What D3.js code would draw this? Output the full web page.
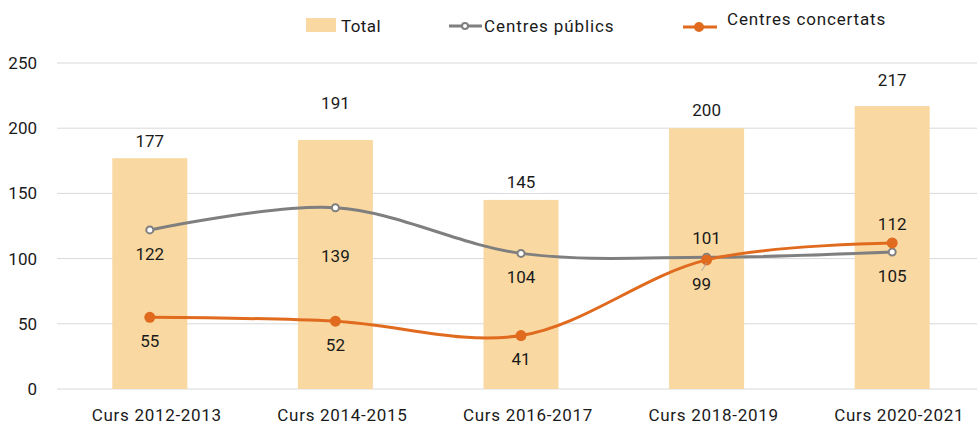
<!DOCTYPE html>
<html><head><meta charset="utf-8">
<script src="https://cdn.jsdelivr.net/npm/d3@7"></script>
<style>body{margin:0;background:#fff}svg{display:block}</style>
</head><body><svg id="c" width="977" height="430"></svg>
<script>
const categories = ["Curs 2012-2013","Curs 2014-2015","Curs 2016-2017","Curs 2018-2019","Curs 2020-2021"];
const total = [177,191,145,200,217];
const publics = [122,139,104,101,105];
const concertats = [55,52,41,99,112];
const yTicks = [0,50,100,150,200,250];
const totalLabelDy = [-17,-37,-18,-18,-26];
const publicsLabelDy = [24,48,24,-19,24];
const concertatsLabelDy = [24,24,24,24,-19];

const svg = d3.select("#c");
const W = 977, H = 430;
const x = d3.scaleBand().domain(categories).range([57, 985]).paddingInner(0.6).paddingOuter(0.3);
const y = d3.scaleLinear().domain([0,250]).range([389, 63]);
const font = "Roboto, 'DejaVu Sans', sans-serif";
const cx = d => x(d) + x.bandwidth()/2;
const BAR = "#F9D8A1", GRAY = "#7F7F7F", ORANGE = "#E06A1E", GRID = "#D9D9D9", TXT = "#1A1A1A";

// grid
svg.append("g").selectAll("line").data(yTicks).join("line")
  .attr("x1",57).attr("x2",W).attr("y1",d=>y(d)).attr("y2",d=>y(d))
  .attr("stroke",GRID).attr("stroke-width",1);
// y tick labels
svg.append("g").selectAll("text").data(yTicks).join("text")
  .attr("x",37).attr("y",d=>y(d)).attr("dy","0.35em").attr("text-anchor","end")
  .attr("font-family",font).attr("font-size",17).attr("fill",TXT).text(d=>d);

// bars
const bw = 75;
svg.append("g").selectAll("rect").data(categories).join("rect")
  .attr("x",d=>cx(d)-bw/2).attr("width",bw)
  .attr("y",(d,i)=>y(total[i])).attr("height",(d,i)=>y(0)-y(total[i]))
  .attr("fill",BAR);

// x labels
svg.append("g").selectAll("text").data(categories).join("text")
  .attr("x",d=>cx(d)+7).attr("y",421).attr("text-anchor","middle")
  .attr("font-family",font).attr("font-size",17).attr("letter-spacing","0.7px")
  .attr("fill",TXT).text(d=>d);

// total labels with white bg
const tl = svg.append("g").selectAll("g").data(categories).join("g")
  .attr("transform",(d,i)=>`translate(${cx(d)},${y(total[i])+totalLabelDy[i]})`);
tl.append("rect").attr("x",-19).attr("y",-11).attr("width",38).attr("height",22).attr("fill","#fff");
tl.append("text").attr("text-anchor","middle").attr("dy","0.35em")
  .attr("font-family",font).attr("font-size",17).attr("fill",TXT).text((d,i)=>total[i]);

const line = d3.line().curve(d3.curveCatmullRom.alpha(0.5));
svg.append("path").attr("d",line(categories.map((c,i)=>[cx(c),y(publics[i])])))
  .attr("fill","none").attr("stroke",GRAY).attr("stroke-width",3);
svg.append("path").attr("d",line(categories.map((c,i)=>[cx(c),y(concertats[i])])))
  .attr("fill","none").attr("stroke",ORANGE).attr("stroke-width",3);

// markers
svg.append("g").selectAll("circle").data(categories).join("circle")
  .attr("cx",d=>cx(d)).attr("cy",(d,i)=>y(publics[i])).attr("r",3.5)
  .attr("fill","#fff").attr("stroke",GRAY).attr("stroke-width",2);
svg.append("g").selectAll("circle").data(categories).join("circle")
  .attr("cx",d=>cx(d)).attr("cy",(d,i)=>y(concertats[i])).attr("r",5.5)
  .attr("fill",ORANGE);

// leader line for 99
svg.append("line").attr("x1",cx(categories[3])-5).attr("y1",y(concertats[3])+11)
  .attr("x2",cx(categories[3])).attr("y2",y(concertats[3])+3)
  .attr("stroke","#A6A6A6").attr("stroke-width",1);

// value labels
svg.append("g").selectAll("text").data(categories).join("text")
  .attr("x",d=>cx(d)).attr("y",(d,i)=>y(publics[i])+publicsLabelDy[i]).attr("dy","0.35em")
  .attr("text-anchor","middle").attr("font-family",font).attr("font-size",17).attr("fill",TXT)
  .text((d,i)=>publics[i]);
svg.append("g").selectAll("text").data(categories).join("text")
  .attr("x",(d,i)=>cx(d)-(i===3?5:0)).attr("y",(d,i)=>y(concertats[i])+concertatsLabelDy[i]).attr("dy","0.35em")
  .attr("text-anchor","middle").attr("font-family",font).attr("font-size",17).attr("fill",TXT)
  .text((d,i)=>concertats[i]);

// legend
const lg = svg.append("g").attr("font-family",font).attr("font-size",17).attr("fill",TXT);
lg.append("rect").attr("x",306).attr("y",18).attr("width",30).attr("height",14).attr("fill",BAR);
lg.append("text").attr("x",341).attr("y",32).attr("letter-spacing","0.4px").text("Total");
lg.append("line").attr("x1",449).attr("x2",482).attr("y1",26).attr("y2",26).attr("stroke",GRAY).attr("stroke-width",3);
lg.append("circle").attr("cx",465).attr("cy",26).attr("r",3).attr("fill","#fff").attr("stroke",GRAY).attr("stroke-width",2);
lg.append("text").attr("x",484).attr("y",32).attr("letter-spacing","0.9px").text("Centres públics");
lg.append("line").attr("x1",683).attr("x2",717).attr("y1",27).attr("y2",27).attr("stroke",ORANGE).attr("stroke-width",3);
lg.append("circle").attr("cx",699).attr("cy",27).attr("r",5).attr("fill",ORANGE);
lg.append("text").attr("x",727).attr("y",25).attr("letter-spacing","0.85px").text("Centres concertats");
</script></body></html>
